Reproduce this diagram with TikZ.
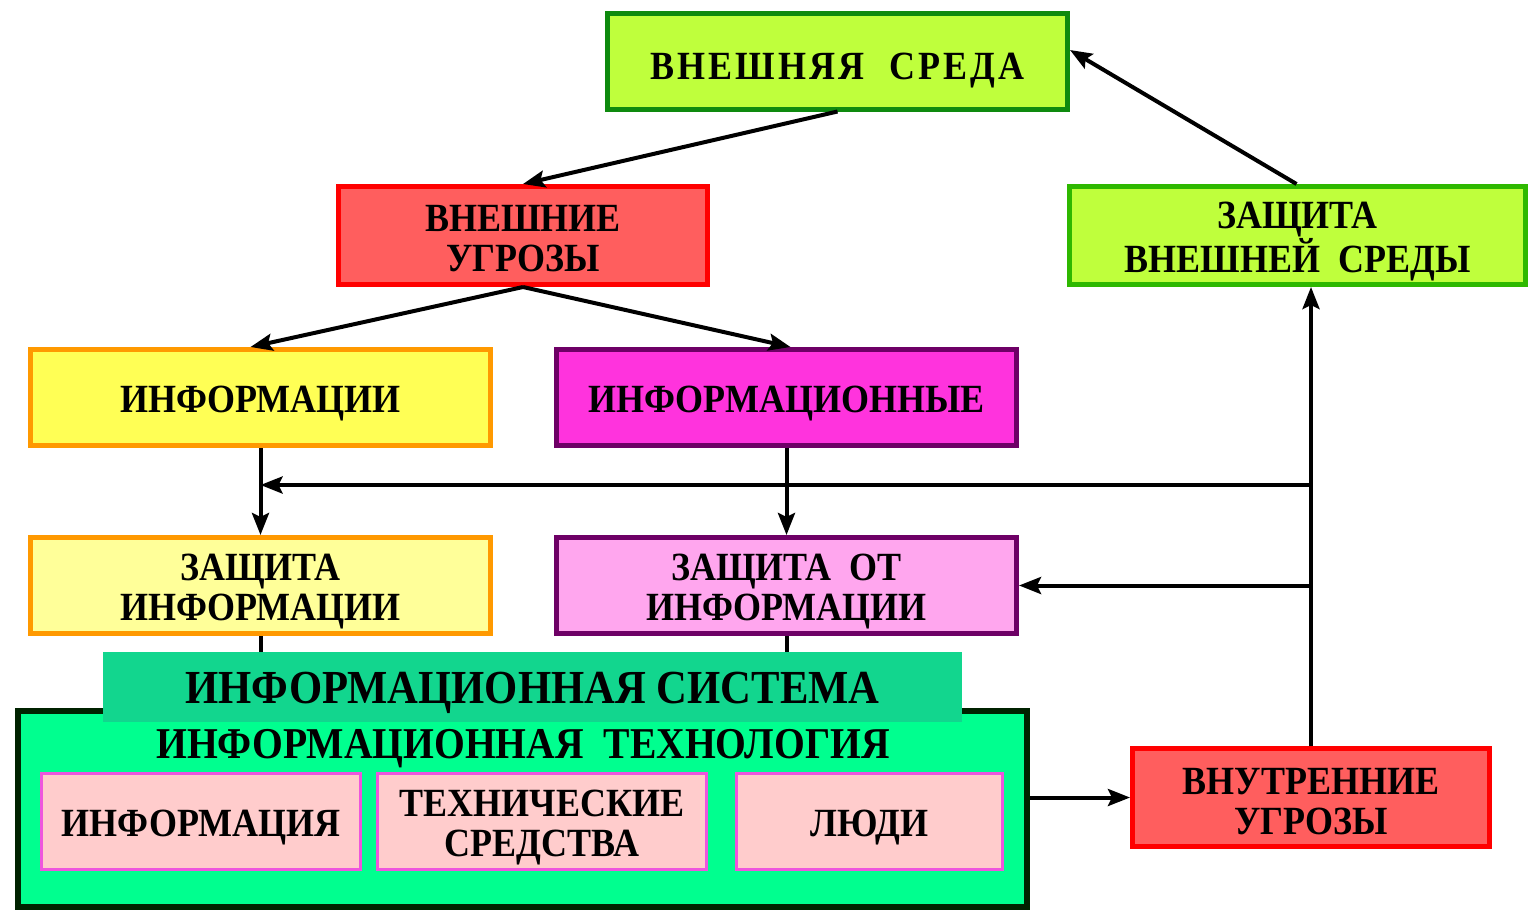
\documentclass[tikz,border=0pt]{standalone}
\usepackage{fontspec}
\setmainfont{Liberation Serif}
\newfontfamily\condfont[FakeStretch=0.9]{Liberation Serif}
\usetikzlibrary{arrows.meta}
\definecolor{limefill}{HTML}{BFFF3C}
\definecolor{darkgreen}{HTML}{0E8A0E}
\definecolor{brightgreen}{HTML}{2EB800}
\definecolor{redfill}{HTML}{FF5E5E}
\definecolor{redline}{HTML}{FF0000}
\definecolor{yelfill}{HTML}{FFFF55}
\definecolor{orangeline}{HTML}{FF9900}
\definecolor{magfill}{HTML}{FF33DD}
\definecolor{purpline}{HTML}{6E0066}
\definecolor{lightyel}{HTML}{FFFF99}
\definecolor{lightpink}{HTML}{FFA6EE}
\definecolor{hdrfill}{HTML}{12D68E}
\definecolor{bigfill}{HTML}{00FF8F}
\definecolor{bigline}{HTML}{002200}
\definecolor{innerfill}{HTML}{FFCCCC}
\definecolor{innerline}{HTML}{EE55DD}
\tikzset{
  box/.style={draw, line width=2.5pt, rectangle, inner sep=0pt},
  bigbox/.style={box, minimum width=230pt, minimum height=48pt},
  smallbox/.style={draw=innerline, fill=innerfill, line width=1.5pt, rectangle,
    inner sep=0pt, minimum height=48pt},
  txt/.style={align=center, inner sep=0pt, font=\condfont\fontsize{20}{20}\selectfont\bfseries},
  arr/.style={line width=2pt, -{Stealth[length=11pt,width=8.5pt,inset=2pt]}},
  ln/.style={line width=2pt},
}
\begin{document}
\begin{tikzpicture}[x=0.5pt,y=-0.5pt]
\useasboundingbox (0,0) rectangle (1530,912);
% top boxes
\node[bigbox, fill=limefill, draw=darkgreen] (b1) at (837.5,61) {};
\node[txt] (t1) at ([yshift=-5pt]b1.center) {\addfontfeature{LetterSpace=8}ВНЕШНЯЯ~ СРЕДА};
\node[box, fill=redfill, draw=redline, minimum width=184.5pt, minimum height=49pt] (b2) at (523,235.5) {};
\node[txt] (t2) at ([yshift=-1.5pt]b2.center) {ВНЕШНИЕ\\УГРОЗЫ};
\node[box, fill=limefill, draw=brightgreen, minimum width=228pt, minimum height=49pt] (b3) at (1297.5,235.5) {};
\node[txt] (t3) at ([yshift=-3pt]b3.center) {ЗАЩИТА\\ВНЕШНЕЙ~ СРЕДЫ};
\node[bigbox, fill=yelfill, draw=orangeline] (b4) at (260.5,397.5) {};
\node[txt] (t4) at ([yshift=-3pt]b4.center) {ИНФОРМАЦИИ};
\node[bigbox, fill=magfill, draw=purpline] (b5) at (786.5,397.5) {};
\node[txt] (t5) at ([yshift=-3pt]b5.center) {ИНФОРМАЦИОННЫЕ};
\node[bigbox, fill=lightyel, draw=orangeline] (b6) at (260.5,585.5) {};
\node[txt] (t6) at ([yshift=-3pt]b6.center) {ЗАЩИТА\\ИНФОРМАЦИИ};
\node[bigbox, fill=lightpink, draw=purpline] (b7) at (786.5,585.5) {};
\node[txt] (t7) at ([yshift=-3pt]b7.center) {ЗАЩИТА~ ОТ\\ИНФОРМАЦИИ};
% information system
\node[draw=bigline, fill=bigfill, line width=3pt, minimum width=504.5pt, minimum height=98pt, inner sep=0pt] (big) at (522.5,809) {};
\node[fill=hdrfill, minimum width=429.5pt, minimum height=35pt, inner sep=0pt] (hdr) at (532.5,687) {};
\node[txt, font=\condfont\fontsize{23.7}{26}\selectfont\bfseries] (thdr) at ([yshift=-3pt]hdr.center) {ИНФОРМАЦИОННАЯ СИСТЕМА};
\node[txt, font=\condfont\fontsize{22}{22}\selectfont\bfseries] (it) at (523,749) {ИНФОРМАЦИОННАЯ~ ТЕХНОЛОГИЯ};
\node[smallbox, minimum width=159.5pt] (s1) at (201,821.5) {};
\node[txt] (ts1) at ([yshift=-3pt]s1.center) {ИНФОРМАЦИЯ};
\node[smallbox, minimum width=164.5pt] (s2) at (542,821.5) {};
\node[txt] (ts2) at ([yshift=-3pt]s2.center) {ТЕХНИЧЕСКИЕ\\СРЕДСТВА};
\node[smallbox, minimum width=133pt] (s3) at (869.5,821.5) {};
\node[txt] (ts3) at ([yshift=-3pt]s3.center) {ЛЮДИ};
\node[box, fill=redfill, draw=redline, minimum width=178.5pt, minimum height=49pt] (b8) at (1311,797.5) {};
\node[txt] (t8) at ([yshift=-2pt]b8.center) {ВНУТРЕННИЕ\\УГРОЗЫ};
% connectors
\draw[arr] (b1.south) -- (b2.north);
\draw[arr] (b2.south) -- ([xshift=-5pt]b4.north);
\draw[arr] (b2.south) -- ([xshift=2pt]b5.north);
\draw[arr] (b4.south) -- (b6.north);
\draw[arr] (b5.south) -- (b7.north);
\draw[arr] (b8.north) -- (b8.north |- b3.south);
\coordinate (j1) at (1311,485);
\draw[arr] (j1) -- (b4.south |- j1);
\draw[arr] (b8.north |- b7.east) -- (b7.east);
\draw[arr] ([xshift=-0.5pt]b3.north) -- ([yshift=5.5pt]b1.east);
\draw[arr] (big.east |- b8.west) -- (b8.west);
\draw[ln] (b6.south) -- (b6.south |- hdr.north);
\draw[ln] (b7.south) -- (b7.south |- hdr.north);
\end{tikzpicture}
\end{document}
